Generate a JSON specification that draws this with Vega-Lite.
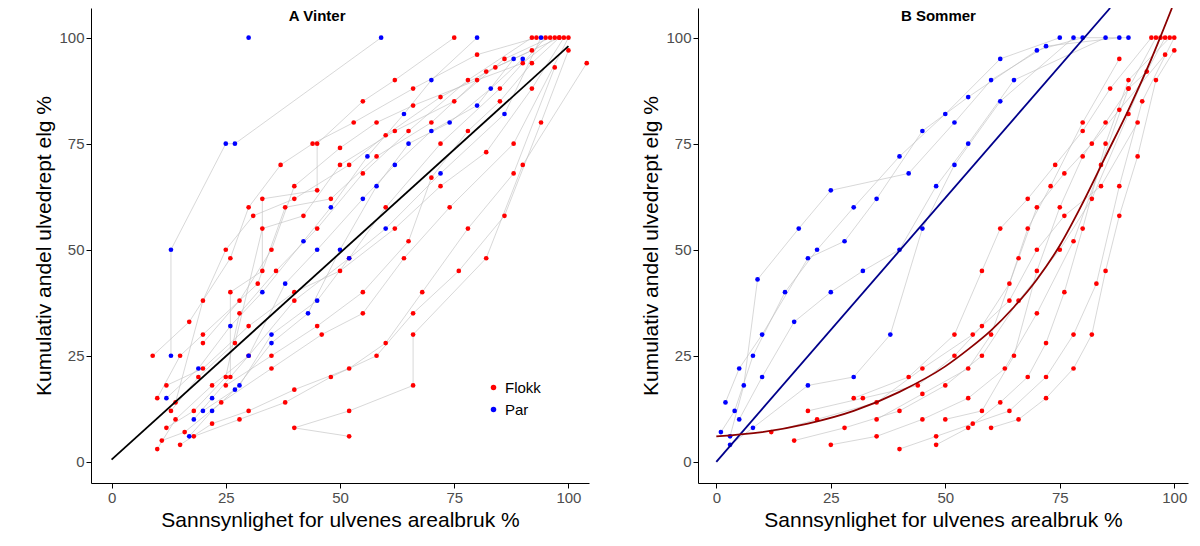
{
  "$schema": "https://vega.github.io/schema/vega-lite/v6.json",
  "background": "white",
  "padding": {"left": 33, "top": 8, "right": 5, "bottom": 2},
  "spacing": 50,
  "config": {
    "view": {"stroke": null},
    "axis": {"grid": false, "domainColor": "black", "tickColor": "black", "labelColor": "#4d4d4d", "labelFontSize": 15, "titleFontSize": 21, "titleFontWeight": "normal", "labelFont": "Liberation Sans", "titleFont": "Liberation Sans", "tickSize": 5}
  },
  "datasets": {
    "pts": [
      {"p":"W","t":"1","g":"Flokk","x":10,"y":3},{"p":"W","t":"1","g":"Flokk","x":14,"y":10},{"p":"W","t":"1","g":"Flokk","x":22,"y":18},{"p":"W","t":"1","g":"Flokk","x":30,"y":25},{"p":"W","t":"1","g":"Flokk","x":40,"y":38},{"p":"W","t":"1","g":"Flokk","x":52,"y":48},{"p":"W","t":"1","g":"Flokk","x":60,"y":60},{"p":"W","t":"1","g":"Flokk","x":72,"y":75},{"p":"W","t":"1","g":"Flokk","x":85,"y":88},{"p":"W","t":"1","g":"Flokk","x":95,"y":100},
      {"p":"W","t":"2","g":"Flokk","x":12,"y":8},{"p":"W","t":"2","g":"Flokk","x":18,"y":12},{"p":"W","t":"2","g":"Flokk","x":25,"y":20},{"p":"W","t":"2","g":"Flokk","x":28,"y":35},{"p":"W","t":"2","g":"Flokk","x":36,"y":45},{"p":"W","t":"2","g":"Flokk","x":45,"y":55},{"p":"W","t":"2","g":"Flokk","x":55,"y":68},{"p":"W","t":"2","g":"Flokk","x":65,"y":78},{"p":"W","t":"2","g":"Flokk","x":78,"y":90},{"p":"W","t":"2","g":"Flokk","x":92,"y":100},
      {"p":"W","t":"3","g":"Flokk","x":10,"y":15},{"p":"W","t":"3","g":"Flokk","x":15,"y":25},{"p":"W","t":"3","g":"Flokk","x":20,"y":30},{"p":"W","t":"3","g":"Flokk","x":32,"y":42},{"p":"W","t":"3","g":"Flokk","x":38,"y":60},{"p":"W","t":"3","g":"Flokk","x":48,"y":62},{"p":"W","t":"3","g":"Flokk","x":58,"y":72},{"p":"W","t":"3","g":"Flokk","x":70,"y":80},{"p":"W","t":"3","g":"Flokk","x":82,"y":92},{"p":"W","t":"3","g":"Flokk","x":98,"y":100},
      {"p":"W","t":"4","g":"Flokk","x":11,"y":5},{"p":"W","t":"4","g":"Flokk","x":16,"y":7},{"p":"W","t":"4","g":"Flokk","x":24,"y":14},{"p":"W","t":"4","g":"Flokk","x":35,"y":22},{"p":"W","t":"4","g":"Flokk","x":46,"y":30},{"p":"W","t":"4","g":"Flokk","x":55,"y":35},{"p":"W","t":"4","g":"Flokk","x":64,"y":48},{"p":"W","t":"4","g":"Flokk","x":74,"y":60},{"p":"W","t":"4","g":"Flokk","x":88,"y":75},{"p":"W","t":"4","g":"Flokk","x":100,"y":100},
      {"p":"W","t":"5","g":"Flokk","x":13,"y":12},{"p":"W","t":"5","g":"Flokk","x":19,"y":20},{"p":"W","t":"5","g":"Flokk","x":27,"y":28},{"p":"W","t":"5","g":"Flokk","x":33,"y":55},{"p":"W","t":"5","g":"Flokk","x":42,"y":58},{"p":"W","t":"5","g":"Flokk","x":50,"y":70},{"p":"W","t":"5","g":"Flokk","x":62,"y":78},{"p":"W","t":"5","g":"Flokk","x":75,"y":85},{"p":"W","t":"5","g":"Flokk","x":86,"y":95},{"p":"W","t":"5","g":"Flokk","x":96,"y":100},
      {"p":"W","t":"6","g":"Flokk","x":9,"y":25},{"p":"W","t":"6","g":"Flokk","x":17,"y":33},{"p":"W","t":"6","g":"Flokk","x":26,"y":48},{"p":"W","t":"6","g":"Flokk","x":30,"y":60},{"p":"W","t":"6","g":"Flokk","x":37,"y":70},{"p":"W","t":"6","g":"Flokk","x":44,"y":75},{"p":"W","t":"6","g":"Flokk","x":53,"y":80},{"p":"W","t":"6","g":"Flokk","x":66,"y":88},{"p":"W","t":"6","g":"Flokk","x":80,"y":96},{"p":"W","t":"6","g":"Flokk","x":93,"y":100},
      {"p":"W","t":"7","g":"Flokk","x":15,"y":4},{"p":"W","t":"7","g":"Flokk","x":22,"y":9},{"p":"W","t":"7","g":"Flokk","x":30,"y":12},{"p":"W","t":"7","g":"Flokk","x":40,"y":17},{"p":"W","t":"7","g":"Flokk","x":52,"y":22},{"p":"W","t":"7","g":"Flokk","x":60,"y":28},{"p":"W","t":"7","g":"Flokk","x":68,"y":40},{"p":"W","t":"7","g":"Flokk","x":78,"y":55},{"p":"W","t":"7","g":"Flokk","x":88,"y":68},{"p":"W","t":"7","g":"Flokk","x":97,"y":93},
      {"p":"W","t":"8","g":"Flokk","x":18,"y":6},{"p":"W","t":"8","g":"Flokk","x":28,"y":10},{"p":"W","t":"8","g":"Flokk","x":38,"y":14},{"p":"W","t":"8","g":"Flokk","x":48,"y":20},{"p":"W","t":"8","g":"Flokk","x":58,"y":25},{"p":"W","t":"8","g":"Flokk","x":66,"y":35},{"p":"W","t":"8","g":"Flokk","x":76,"y":45},{"p":"W","t":"8","g":"Flokk","x":86,"y":58},{"p":"W","t":"8","g":"Flokk","x":94,"y":80},{"p":"W","t":"8","g":"Flokk","x":100,"y":97},
      {"p":"W","t":"9","g":"Flokk","x":20,"y":28},{"p":"W","t":"9","g":"Flokk","x":28,"y":38},{"p":"W","t":"9","g":"Flokk","x":35,"y":50},{"p":"W","t":"9","g":"Flokk","x":40,"y":65},{"p":"W","t":"9","g":"Flokk","x":50,"y":74},{"p":"W","t":"9","g":"Flokk","x":58,"y":80},{"p":"W","t":"9","g":"Flokk","x":66,"y":84},{"p":"W","t":"9","g":"Flokk","x":80,"y":90},{"p":"W","t":"9","g":"Flokk","x":90,"y":94},{"p":"W","t":"9","g":"Flokk","x":97,"y":100},
      {"p":"W","t":"10","g":"Flokk","x":12,"y":18},{"p":"W","t":"10","g":"Flokk","x":20,"y":22},{"p":"W","t":"10","g":"Flokk","x":30,"y":32},{"p":"W","t":"10","g":"Flokk","x":40,"y":40},{"p":"W","t":"10","g":"Flokk","x":50,"y":45},{"p":"W","t":"10","g":"Flokk","x":62,"y":55},{"p":"W","t":"10","g":"Flokk","x":72,"y":65},{"p":"W","t":"10","g":"Flokk","x":82,"y":73},{"p":"W","t":"10","g":"Flokk","x":92,"y":88},{"p":"W","t":"10","g":"Flokk","x":99,"y":100},
      {"p":"W","t":"11","g":"Flokk","x":25,"y":18},{"p":"W","t":"11","g":"Flokk","x":35,"y":25},{"p":"W","t":"11","g":"Flokk","x":45,"y":32},{"p":"W","t":"11","g":"Flokk","x":55,"y":40},{"p":"W","t":"11","g":"Flokk","x":65,"y":52},{"p":"W","t":"11","g":"Flokk","x":70,"y":67},{"p":"W","t":"11","g":"Flokk","x":78,"y":78},{"p":"W","t":"11","g":"Flokk","x":85,"y":85},{"p":"W","t":"11","g":"Flokk","x":92,"y":94},{"p":"W","t":"11","g":"Flokk","x":98,"y":100},
      {"p":"W","t":"12","g":"Flokk","x":14,"y":14},{"p":"W","t":"12","g":"Flokk","x":20,"y":38},{"p":"W","t":"12","g":"Flokk","x":25,"y":50},{"p":"W","t":"12","g":"Flokk","x":31,"y":58},{"p":"W","t":"12","g":"Flokk","x":40,"y":62},{"p":"W","t":"12","g":"Flokk","x":52,"y":70},{"p":"W","t":"12","g":"Flokk","x":60,"y":77},{"p":"W","t":"12","g":"Flokk","x":72,"y":86},{"p":"W","t":"12","g":"Flokk","x":84,"y":93},{"p":"W","t":"12","g":"Flokk","x":92,"y":97},
      {"p":"W","t":"13","g":"Flokk","x":26,"y":20},{"p":"W","t":"13","g":"Flokk","x":26,"y":40},{"p":"W","t":"13","g":"Flokk","x":33,"y":45},{"p":"W","t":"13","g":"Flokk","x":33,"y":62},{"p":"W","t":"13","g":"Flokk","x":45,"y":64},{"p":"W","t":"13","g":"Flokk","x":45,"y":75},{"p":"W","t":"13","g":"Flokk","x":55,"y":85},{"p":"W","t":"13","g":"Flokk","x":62,"y":90},{"p":"W","t":"13","g":"Flokk","x":75,"y":100},
      {"p":"W","t":"14","g":"Flokk","x":40,"y":8},{"p":"W","t":"14","g":"Flokk","x":52,"y":6},{"p":"W","t":"14","g":"Flokk","x":52,"y":12},{"p":"W","t":"14","g":"Flokk","x":66,"y":18},{"p":"W","t":"14","g":"Flokk","x":66,"y":30},{"p":"W","t":"14","g":"Flokk","x":82,"y":48},{"p":"W","t":"14","g":"Flokk","x":90,"y":70},{"p":"W","t":"14","g":"Flokk","x":104,"y":94},
      {"p":"W","t":"P1","g":"Par","x":13,"y":25},{"p":"W","t":"P1","g":"Par","x":13,"y":50},{"p":"W","t":"P1","g":"Par","x":25,"y":75},{"p":"W","t":"P1","g":"Par","x":27,"y":75},{"p":"W","t":"P1","g":"Par","x":59,"y":100},
      {"p":"W","t":"P2","g":"Par","x":18,"y":10},{"p":"W","t":"P2","g":"Par","x":22,"y":15},{"p":"W","t":"P2","g":"Par","x":30,"y":25},{"p":"W","t":"P2","g":"Par","x":38,"y":42},{"p":"W","t":"P2","g":"Par","x":45,"y":50},{"p":"W","t":"P2","g":"Par","x":55,"y":62},{"p":"W","t":"P2","g":"Par","x":62,"y":70},{"p":"W","t":"P2","g":"Par","x":70,"y":78},{"p":"W","t":"P2","g":"Par","x":80,"y":84},{"p":"W","t":"P2","g":"Par","x":88,"y":95},
      {"p":"W","t":"P3","g":"Par","x":17,"y":6},{"p":"W","t":"P3","g":"Par","x":22,"y":12},{"p":"W","t":"P3","g":"Par","x":28,"y":18},{"p":"W","t":"P3","g":"Par","x":35,"y":30},{"p":"W","t":"P3","g":"Par","x":45,"y":38},{"p":"W","t":"P3","g":"Par","x":52,"y":48},{"p":"W","t":"P3","g":"Par","x":60,"y":55},{"p":"W","t":"P3","g":"Par","x":72,"y":68},{"p":"W","t":"P3","g":"Par","x":86,"y":82},{"p":"W","t":"P3","g":"Par","x":94,"y":100},
      {"p":"W","t":"P4","g":"Par","x":12,"y":15},{"p":"W","t":"P4","g":"Par","x":19,"y":22},{"p":"W","t":"P4","g":"Par","x":26,"y":32},{"p":"W","t":"P4","g":"Par","x":33,"y":40},{"p":"W","t":"P4","g":"Par","x":42,"y":52},{"p":"W","t":"P4","g":"Par","x":48,"y":60},{"p":"W","t":"P4","g":"Par","x":56,"y":72},{"p":"W","t":"P4","g":"Par","x":64,"y":82},{"p":"W","t":"P4","g":"Par","x":70,"y":90},{"p":"W","t":"P4","g":"Par","x":80,"y":100},
      {"p":"W","t":"P5","g":"Par","x":20,"y":12},{"p":"W","t":"P5","g":"Par","x":27,"y":17},{"p":"W","t":"P5","g":"Par","x":35,"y":28},{"p":"W","t":"P5","g":"Par","x":43,"y":35},{"p":"W","t":"P5","g":"Par","x":50,"y":50},{"p":"W","t":"P5","g":"Par","x":58,"y":65},{"p":"W","t":"P5","g":"Par","x":65,"y":75},{"p":"W","t":"P5","g":"Par","x":74,"y":80},{"p":"W","t":"P5","g":"Par","x":83,"y":88},{"p":"W","t":"P5","g":"Par","x":90,"y":95},
      {"p":"W","t":"P6","g":"Par","x":30,"y":100},

      {"p":"S","t":"P1","g":"Par","x":1,"y":7},{"p":"S","t":"P1","g":"Par","x":4,"y":12},{"p":"S","t":"P1","g":"Par","x":8,"y":25},{"p":"S","t":"P1","g":"Par","x":15,"y":40},{"p":"S","t":"P1","g":"Par","x":22,"y":50},{"p":"S","t":"P1","g":"Par","x":30,"y":60},{"p":"S","t":"P1","g":"Par","x":40,"y":72},{"p":"S","t":"P1","g":"Par","x":50,"y":82},{"p":"S","t":"P1","g":"Par","x":62,"y":95},{"p":"S","t":"P1","g":"Par","x":75,"y":100},
      {"p":"S","t":"P2","g":"Par","x":2,"y":14},{"p":"S","t":"P2","g":"Par","x":5,"y":22},{"p":"S","t":"P2","g":"Par","x":10,"y":30},{"p":"S","t":"P2","g":"Par","x":20,"y":48},{"p":"S","t":"P2","g":"Par","x":28,"y":52},{"p":"S","t":"P2","g":"Par","x":35,"y":62},{"p":"S","t":"P2","g":"Par","x":45,"y":78},{"p":"S","t":"P2","g":"Par","x":55,"y":86},{"p":"S","t":"P2","g":"Par","x":70,"y":97},{"p":"S","t":"P2","g":"Par","x":80,"y":100},
      {"p":"S","t":"P3","g":"Par","x":3,"y":6},{"p":"S","t":"P3","g":"Par","x":6,"y":18},{"p":"S","t":"P3","g":"Par","x":9,"y":43},{"p":"S","t":"P3","g":"Par","x":18,"y":55},{"p":"S","t":"P3","g":"Par","x":25,"y":64},{"p":"S","t":"P3","g":"Par","x":42,"y":68},{"p":"S","t":"P3","g":"Par","x":52,"y":80},{"p":"S","t":"P3","g":"Par","x":60,"y":90},{"p":"S","t":"P3","g":"Par","x":72,"y":98},{"p":"S","t":"P3","g":"Par","x":88,"y":100},
      {"p":"S","t":"P4","g":"Par","x":5,"y":10},{"p":"S","t":"P4","g":"Par","x":10,"y":20},{"p":"S","t":"P4","g":"Par","x":17,"y":33},{"p":"S","t":"P4","g":"Par","x":25,"y":40},{"p":"S","t":"P4","g":"Par","x":32,"y":45},{"p":"S","t":"P4","g":"Par","x":40,"y":50},{"p":"S","t":"P4","g":"Par","x":48,"y":65},{"p":"S","t":"P4","g":"Par","x":55,"y":75},{"p":"S","t":"P4","g":"Par","x":65,"y":90},{"p":"S","t":"P4","g":"Par","x":85,"y":100},
      {"p":"S","t":"P5","g":"Par","x":3,"y":4},{"p":"S","t":"P5","g":"Par","x":8,"y":8},{"p":"S","t":"P5","g":"Par","x":20,"y":18},{"p":"S","t":"P5","g":"Par","x":30,"y":20},{"p":"S","t":"P5","g":"Par","x":38,"y":30},{"p":"S","t":"P5","g":"Par","x":45,"y":55},{"p":"S","t":"P5","g":"Par","x":52,"y":70},{"p":"S","t":"P5","g":"Par","x":62,"y":85},{"p":"S","t":"P5","g":"Par","x":78,"y":100},{"p":"S","t":"P5","g":"Par","x":90,"y":100},
      {"p":"S","t":"1","g":"Flokk","x":17,"y":5},{"p":"S","t":"1","g":"Flokk","x":28,"y":8},{"p":"S","t":"1","g":"Flokk","x":40,"y":12},{"p":"S","t":"1","g":"Flokk","x":50,"y":18},{"p":"S","t":"1","g":"Flokk","x":58,"y":25},{"p":"S","t":"1","g":"Flokk","x":66,"y":38},{"p":"S","t":"1","g":"Flokk","x":75,"y":50},{"p":"S","t":"1","g":"Flokk","x":82,"y":62},{"p":"S","t":"1","g":"Flokk","x":90,"y":82},{"p":"S","t":"1","g":"Flokk","x":97,"y":100},
      {"p":"S","t":"2","g":"Flokk","x":25,"y":4},{"p":"S","t":"2","g":"Flokk","x":35,"y":6},{"p":"S","t":"2","g":"Flokk","x":45,"y":10},{"p":"S","t":"2","g":"Flokk","x":55,"y":15},{"p":"S","t":"2","g":"Flokk","x":63,"y":22},{"p":"S","t":"2","g":"Flokk","x":70,"y":35},{"p":"S","t":"2","g":"Flokk","x":78,"y":52},{"p":"S","t":"2","g":"Flokk","x":84,"y":70},{"p":"S","t":"2","g":"Flokk","x":90,"y":88},{"p":"S","t":"2","g":"Flokk","x":96,"y":100},
      {"p":"S","t":"3","g":"Flokk","x":40,"y":3},{"p":"S","t":"3","g":"Flokk","x":48,"y":6},{"p":"S","t":"3","g":"Flokk","x":56,"y":9},{"p":"S","t":"3","g":"Flokk","x":64,"y":12},{"p":"S","t":"3","g":"Flokk","x":72,"y":20},{"p":"S","t":"3","g":"Flokk","x":78,"y":30},{"p":"S","t":"3","g":"Flokk","x":83,"y":42},{"p":"S","t":"3","g":"Flokk","x":88,"y":65},{"p":"S","t":"3","g":"Flokk","x":93,"y":85},{"p":"S","t":"3","g":"Flokk","x":100,"y":100},
      {"p":"S","t":"4","g":"Flokk","x":30,"y":15},{"p":"S","t":"4","g":"Flokk","x":42,"y":20},{"p":"S","t":"4","g":"Flokk","x":52,"y":30},{"p":"S","t":"4","g":"Flokk","x":58,"y":45},{"p":"S","t":"4","g":"Flokk","x":62,"y":55},{"p":"S","t":"4","g":"Flokk","x":68,"y":62},{"p":"S","t":"4","g":"Flokk","x":74,"y":70},{"p":"S","t":"4","g":"Flokk","x":80,"y":78},{"p":"S","t":"4","g":"Flokk","x":86,"y":88},{"p":"S","t":"4","g":"Flokk","x":95,"y":100},
      {"p":"S","t":"5","g":"Flokk","x":35,"y":10},{"p":"S","t":"5","g":"Flokk","x":45,"y":16},{"p":"S","t":"5","g":"Flokk","x":55,"y":22},{"p":"S","t":"5","g":"Flokk","x":60,"y":30},{"p":"S","t":"5","g":"Flokk","x":66,"y":48},{"p":"S","t":"5","g":"Flokk","x":70,"y":60},{"p":"S","t":"5","g":"Flokk","x":76,"y":68},{"p":"S","t":"5","g":"Flokk","x":82,"y":75},{"p":"S","t":"5","g":"Flokk","x":88,"y":83},{"p":"S","t":"5","g":"Flokk","x":98,"y":96},
      {"p":"S","t":"6","g":"Flokk","x":48,"y":4},{"p":"S","t":"6","g":"Flokk","x":55,"y":8},{"p":"S","t":"6","g":"Flokk","x":62,"y":14},{"p":"S","t":"6","g":"Flokk","x":68,"y":20},{"p":"S","t":"6","g":"Flokk","x":72,"y":28},{"p":"S","t":"6","g":"Flokk","x":76,"y":40},{"p":"S","t":"6","g":"Flokk","x":80,"y":55},{"p":"S","t":"6","g":"Flokk","x":85,"y":75},{"p":"S","t":"6","g":"Flokk","x":90,"y":90},{"p":"S","t":"6","g":"Flokk","x":99,"y":100},
      {"p":"S","t":"7","g":"Flokk","x":20,"y":12},{"p":"S","t":"7","g":"Flokk","x":32,"y":15},{"p":"S","t":"7","g":"Flokk","x":44,"y":18},{"p":"S","t":"7","g":"Flokk","x":52,"y":25},{"p":"S","t":"7","g":"Flokk","x":58,"y":32},{"p":"S","t":"7","g":"Flokk","x":64,"y":42},{"p":"S","t":"7","g":"Flokk","x":68,"y":55},{"p":"S","t":"7","g":"Flokk","x":73,"y":65},{"p":"S","t":"7","g":"Flokk","x":80,"y":80},{"p":"S","t":"7","g":"Flokk","x":88,"y":95},
      {"p":"S","t":"8","g":"Flokk","x":60,"y":8},{"p":"S","t":"8","g":"Flokk","x":66,"y":10},{"p":"S","t":"8","g":"Flokk","x":72,"y":15},{"p":"S","t":"8","g":"Flokk","x":78,"y":22},{"p":"S","t":"8","g":"Flokk","x":82,"y":30},{"p":"S","t":"8","g":"Flokk","x":85,"y":45},{"p":"S","t":"8","g":"Flokk","x":88,"y":58},{"p":"S","t":"8","g":"Flokk","x":92,"y":72},{"p":"S","t":"8","g":"Flokk","x":96,"y":90},{"p":"S","t":"8","g":"Flokk","x":100,"y":97},
      {"p":"S","t":"9","g":"Flokk","x":50,"y":10},{"p":"S","t":"9","g":"Flokk","x":58,"y":12},{"p":"S","t":"9","g":"Flokk","x":65,"y":25},{"p":"S","t":"9","g":"Flokk","x":70,"y":45},{"p":"S","t":"9","g":"Flokk","x":75,"y":60},{"p":"S","t":"9","g":"Flokk","x":80,"y":72},{"p":"S","t":"9","g":"Flokk","x":85,"y":80},{"p":"S","t":"9","g":"Flokk","x":90,"y":88},{"p":"S","t":"9","g":"Flokk","x":94,"y":92},{"p":"S","t":"9","g":"Flokk","x":98,"y":100},
      {"p":"S","t":"10","g":"Flokk","x":12,"y":7},{"p":"S","t":"10","g":"Flokk","x":22,"y":10},{"p":"S","t":"10","g":"Flokk","x":35,"y":14},{"p":"S","t":"10","g":"Flokk","x":45,"y":22},{"p":"S","t":"10","g":"Flokk","x":56,"y":30},{"p":"S","t":"10","g":"Flokk","x":64,"y":38},{"p":"S","t":"10","g":"Flokk","x":70,"y":50},{"p":"S","t":"10","g":"Flokk","x":76,"y":58},{"p":"S","t":"10","g":"Flokk","x":84,"y":65},{"p":"S","t":"10","g":"Flokk","x":92,"y":80}
    ],
    "fit": [
      {"p":"W","f":"W","x":0,"y":0.5},{"p":"W","f":"W","x":100,"y":98},
      {"p":"S","f":"Par","x":0,"y":0},{"p":"S","f":"Par","x":86,"y":107},
      {"p":"S","f":"Flokk","x":0,"y":6},{"p":"S","f":"Flokk","x":10,"y":7},{"p":"S","f":"Flokk","x":20,"y":9},{"p":"S","f":"Flokk","x":30,"y":12},{"p":"S","f":"Flokk","x":40,"y":16.5},{"p":"S","f":"Flokk","x":50,"y":22.5},{"p":"S","f":"Flokk","x":55,"y":26.5},{"p":"S","f":"Flokk","x":60,"y":31},{"p":"S","f":"Flokk","x":65,"y":36.5},{"p":"S","f":"Flokk","x":70,"y":43},{"p":"S","f":"Flokk","x":75,"y":51},{"p":"S","f":"Flokk","x":80,"y":61},{"p":"S","f":"Flokk","x":85,"y":72},{"p":"S","f":"Flokk","x":90,"y":83},{"p":"S","f":"Flokk","x":95,"y":95},{"p":"S","f":"Flokk","x":99.5,"y":107}
    ]
  },
  "resolve": {"legend": {"color": "independent"}, "scale": {"color": "independent"}},
  "hconcat": [
    {
      "width": 498, "height": 475,
      "layer": [
        {
          "data": {"name": "pts"},
          "transform": [{"filter": "datum.p == 'W'"}],
          "mark": {"type": "line", "stroke": "#bdbdbd", "strokeWidth": 0.6},
          "encoding": {"x": {"field": "x", "type": "quantitative", "scale": {"domain": [-4.5, 104.5], "nice": false, "zero": false}, "axis": {"values": [0, 25, 50, 75, 100]}, "title": "Sannsynlighet for ulvenes arealbruk %"}, "y": {"field": "y", "type": "quantitative", "scale": {"domain": [-5, 107], "nice": false}, "axis": {"values": [0, 25, 50, 75, 100]}, "title": "Kumulativ andel ulvedrept elg %"}, "detail": {"field": "t"}, "order": {"field": "y"}}
        },
        {
          "data": {"name": "pts"},
          "transform": [{"filter": "datum.p == 'W'"}],
          "mark": {"type": "circle", "size": 22, "opacity": 1},
          "encoding": {"x": {"field": "x", "type": "quantitative"}, "y": {"field": "y", "type": "quantitative"}, "color": {"field": "g", "type": "nominal", "scale": {"domain": ["Flokk", "Par"], "range": ["#ff0000", "#0000ff"]}, "legend": {"title": null, "orient": "none", "legendX": 395, "legendY": 372, "labelFontSize": 15, "labelFont": "Liberation Sans", "symbolSize": 30, "rowPadding": 6}}}
        },
        {
          "data": {"name": "fit"},
          "transform": [{"filter": "datum.p == 'W'"}],
          "mark": {"type": "line", "stroke": "black", "strokeWidth": 1.8},
          "encoding": {"x": {"field": "x", "type": "quantitative"}, "y": {"field": "y", "type": "quantitative"}}
        },
        {
          "data": {"values": [{"lab": "A Vinter"}]},
          "mark": {"type": "text", "fontWeight": "bold", "fontSize": 15, "font": "Liberation Sans"},
          "encoding": {"x": {"datum": 45}, "y": {"datum": 105}, "text": {"field": "lab"}}
        }
      ]
    },
    {
      "width": 490, "height": 475,
      "layer": [
        {
          "data": {"name": "pts"},
          "transform": [{"filter": "datum.p == 'S'"}],
          "mark": {"type": "line", "stroke": "#bdbdbd", "strokeWidth": 0.6},
          "encoding": {"x": {"field": "x", "type": "quantitative", "scale": {"domain": [-4, 103], "nice": false, "zero": false}, "axis": {"values": [0, 25, 50, 75, 100]}, "title": "Sannsynlighet for ulvenes arealbruk %"}, "y": {"field": "y", "type": "quantitative", "scale": {"domain": [-5, 107], "nice": false}, "axis": {"values": [0, 25, 50, 75, 100]}, "title": "Kumulativ andel ulvedrept elg %"}, "detail": {"field": "t"}, "order": {"field": "y"}}
        },
        {
          "data": {"name": "pts"},
          "transform": [{"filter": "datum.p == 'S'"}],
          "mark": {"type": "circle", "size": 22, "opacity": 1},
          "encoding": {"x": {"field": "x", "type": "quantitative"}, "y": {"field": "y", "type": "quantitative"}, "color": {"field": "g", "type": "nominal", "scale": {"domain": ["Flokk", "Par"], "range": ["#ff0000", "#0000ff"]}, "legend": null}}
        },
        {
          "data": {"name": "fit"},
          "transform": [{"filter": "datum.p == 'S'"}],
          "mark": {"type": "line", "strokeWidth": 1.8, "clip": true, "interpolate": "monotone"},
          "encoding": {"x": {"field": "x", "type": "quantitative"}, "y": {"field": "y", "type": "quantitative"}, "detail": {"field": "f"}, "stroke": {"field": "f", "type": "nominal", "scale": {"domain": ["Flokk", "Par"], "range": ["#8b0000", "#00008b"]}, "legend": null}}
        },
        {
          "data": {"values": [{"lab": "B Sommer"}]},
          "mark": {"type": "text", "fontWeight": "bold", "fontSize": 15, "font": "Liberation Sans"},
          "encoding": {"x": {"datum": 48.5}, "y": {"datum": 105}, "text": {"field": "lab"}}
        }
      ]
    }
  ]
}
